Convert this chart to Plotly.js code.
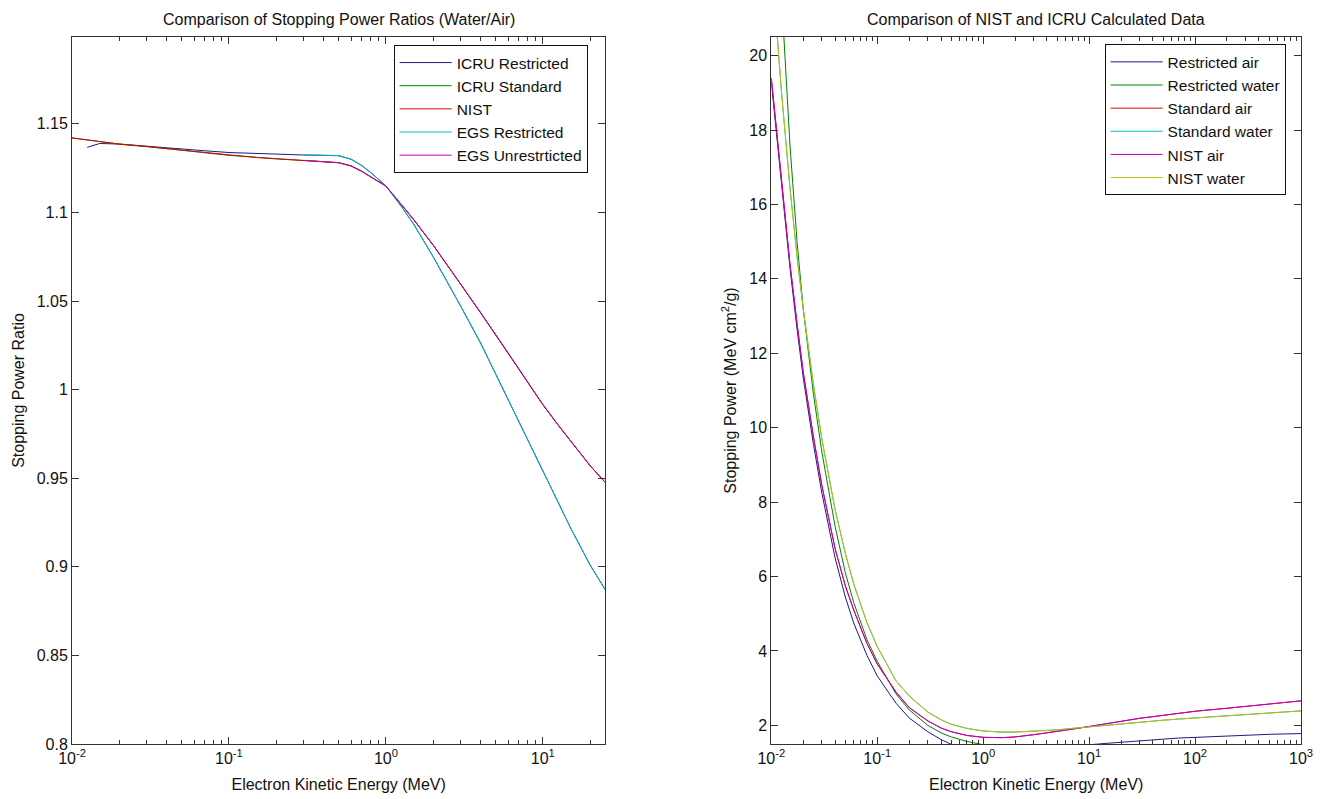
<!DOCTYPE html>
<html>
<head>
<meta charset="utf-8">
<script src="https://cdn.plot.ly/plotly-3.0.1.min.js"></script>
<style>html,body{margin:0;padding:0;background:#fff;}#chart{width:1322px;height:799px;}</style>
</head>
<body>
<div id="chart"></div>
<script>
// ---------- Left panel: stopping power ratios water/air ----------
const icruRestrictedE = [0.0125, 0.015, 0.02, 0.03, 0.04, 0.05, 0.07, 0.1, 0.15, 0.2, 0.3, 0.4, 0.5, 0.6, 0.7, 0.8, 1, 1.25, 1.5, 2, 2.5, 3, 4, 5, 6, 8, 10, 12.5, 15, 20, 25];
const icruRestrictedR = [1.1367, 1.1389, 1.1386, 1.1375, 1.1364, 1.1358, 1.1348, 1.1338, 1.1332, 1.1328, 1.1324, 1.1322, 1.1320, 1.1300, 1.1265, 1.1225, 1.1150, 1.1035, 1.0935, 1.0750, 1.0600, 1.0470, 1.0265, 1.0090, 0.9950, 0.9720, 0.9540, 0.9365, 0.9220, 0.9010, 0.8870];

const icruStandardE = [0.01, 0.0125, 0.015, 0.02, 0.03, 0.04, 0.05, 0.07, 0.1, 0.15, 0.2, 0.3, 0.4, 0.5, 0.6, 0.7, 0.8, 1, 1.25, 1.5, 2, 2.5, 3, 4, 5, 6, 8, 10, 12.5, 15, 20, 25];
const icruStandardR = [1.1420, 1.1408, 1.1398, 1.1386, 1.1372, 1.1360, 1.1352, 1.1337, 1.1322, 1.1311, 1.1303, 1.1293, 1.1286, 1.1280, 1.1262, 1.1232, 1.1200, 1.1148, 1.1045, 1.0960, 1.0815, 1.0695, 1.0595, 1.0435, 1.0310, 1.0205, 1.0040, 0.9915, 0.9800, 0.9710, 0.9570, 0.9475];

const nistE = [0.01, 0.0125, 0.015, 0.02, 0.03, 0.04, 0.05, 0.07, 0.1, 0.15, 0.2, 0.3, 0.4, 0.5, 0.6, 0.7, 0.8, 1, 1.25, 1.5, 2, 2.5, 3, 4, 5, 6, 8, 10, 12.5, 15, 20, 25];
const nistR = [1.1421, 1.1409, 1.1398, 1.1385, 1.1371, 1.1360, 1.1351, 1.1336, 1.1322, 1.1310, 1.1302, 1.1293, 1.1286, 1.1281, 1.1262, 1.1233, 1.1201, 1.1149, 1.1046, 1.0961, 1.0816, 1.0696, 1.0596, 1.0436, 1.0311, 1.0206, 1.0041, 0.9916, 0.9801, 0.9711, 0.9571, 0.9476];

const egsRestrictedE = [0.3, 0.4, 0.5, 0.6, 0.7, 0.8, 1, 1.25, 1.5, 2, 2.5, 3, 4, 5, 6, 8, 10, 12.5, 15, 20, 25];
const egsRestrictedR = [1.1325, 1.1323, 1.1321, 1.1301, 1.1266, 1.1226, 1.1151, 1.1036, 1.0936, 1.0751, 1.0601, 1.0471, 1.0266, 1.0091, 0.9951, 0.9721, 0.9541, 0.9366, 0.9221, 0.9011, 0.8871];

const egsUnrestrictedE = [0.3, 0.4, 0.5, 0.6, 0.7, 0.8, 1, 1.25, 1.5, 2, 2.5, 3, 4, 5, 6, 8, 10, 12.5, 15, 20, 25];
const egsUnrestrictedR = [1.1294, 1.1287, 1.1281, 1.1263, 1.1233, 1.1201, 1.1149, 1.1046, 1.0961, 1.0816, 1.0696, 1.0596, 1.0436, 1.0311, 1.0206, 1.0041, 0.9916, 0.9801, 0.9711, 0.9571, 0.9476];

// ---------- Right panel: stopping powers (MeV cm2/g) ----------
const spEnergy = [0.01, 0.0125, 0.015, 0.0175, 0.02, 0.025, 0.03, 0.04, 0.05, 0.06, 0.08, 0.1, 0.15, 0.2, 0.3, 0.4, 0.5, 0.7, 1, 1.5, 2, 3, 5, 7, 10, 15, 20, 30, 50, 70, 100, 200, 300, 500, 700, 1000];
const restrictedAir = [19.3, 16.5, 14.3, 12.65, 11.35, 9.55, 8.25, 6.5, 5.45, 4.75, 3.88, 3.33, 2.6, 2.2, 1.83, 1.62, 1.49, 1.39, 1.34, 1.33, 1.35, 1.38, 1.42, 1.45, 1.48, 1.52, 1.55, 1.59, 1.63, 1.66, 1.68, 1.72, 1.74, 1.76, 1.77, 1.78];
const restrictedWaterE = [0.0125, 0.015, 0.0175, 0.02, 0.025, 0.03, 0.04, 0.05, 0.06, 0.08, 0.1, 0.15, 0.2, 0.3, 0.4, 0.5, 0.7, 1];
const restrictedWater = [21.6, 17.6, 15.0, 13.2, 10.9, 9.35, 7.35, 6.1, 5.3, 4.3, 3.72, 2.85, 2.42, 2.0, 1.8, 1.69, 1.57, 1.48];
const standardAir = [19.4, 16.6, 14.4, 12.8, 11.5, 9.75, 8.45, 6.75, 5.75, 5.1, 4.2, 3.65, 2.9, 2.48, 2.12, 1.93, 1.83, 1.73, 1.68, 1.67, 1.69, 1.75, 1.83, 1.90, 1.97, 2.05, 2.11, 2.19, 2.27, 2.33, 2.38, 2.46, 2.51, 2.57, 2.62, 2.66];
const standardWater = [22.6, 19.0, 16.45, 14.6, 13.2, 11.15, 9.7, 7.8, 6.62, 5.8, 4.76, 4.12, 3.2, 2.79, 2.36, 2.15, 2.03, 1.92, 1.85, 1.82, 1.82, 1.84, 1.88, 1.92, 1.96, 2.01, 2.05, 2.09, 2.14, 2.17, 2.20, 2.26, 2.29, 2.33, 2.36, 2.39];
const nistAir = [19.4, 16.6, 14.4, 12.8, 11.5, 9.75, 8.45, 6.75, 5.75, 5.1, 4.2, 3.65, 2.9, 2.48, 2.12, 1.93, 1.83, 1.73, 1.68, 1.67, 1.69, 1.75, 1.83, 1.90, 1.97, 2.05, 2.11, 2.19, 2.27, 2.33, 2.38, 2.46, 2.51, 2.57, 2.62, 2.66];
const nistWater = [22.6, 19.0, 16.45, 14.6, 13.2, 11.15, 9.7, 7.8, 6.62, 5.8, 4.76, 4.12, 3.2, 2.79, 2.36, 2.15, 2.03, 1.92, 1.85, 1.82, 1.82, 1.84, 1.88, 1.92, 1.96, 2.01, 2.05, 2.09, 2.14, 2.17, 2.20, 2.26, 2.29, 2.33, 2.36, 2.39];

// ---------- Tick labels ----------
const leftXTickVals = [0.01, 0.1, 1, 10];
const leftXTickText = ['10<sup>-2</sup>', '10<sup>-1</sup>', '10<sup>0</sup>', '10<sup>1</sup>'];
const leftYTickVals = [0.8, 0.85, 0.9, 0.95, 1, 1.05, 1.1, 1.15];
const leftYTickText = ['0.8', '0.85', '0.9', '0.95', '1', '1.05', '1.1', '1.15'];
const rightXTickVals = [0.01, 0.1, 1, 10, 100, 1000];
const rightXTickText = ['10<sup>-2</sup>', '10<sup>-1</sup>', '10<sup>0</sup>', '10<sup>1</sup>', '10<sup>2</sup>', '10<sup>3</sup>'];
const rightYTickVals = [2, 4, 6, 8, 10, 12, 14, 16, 18, 20];

// colours (classic MATLAB colour order)
const cBlue = '#1a1a80', cGreen = '#008000', cRed = '#e00000', cCyan = '#00bfbf', cMag = '#bf00bf', cYel = '#bfbf00';

function minorLogTicks(lo, hi) {
  const out = [];
  for (let d = lo; d < hi; d++) {
    for (let k = 2; k <= 9; k++) out.push(k * Math.pow(10, d));
  }
  return out;
}

function ln(x, y, name, color, xa, ya, legend) {
  return {type: 'scatter', mode: 'lines', x: x, y: y, name: name,
    line: {color: color, width: 1}, xaxis: xa, yaxis: ya, legend: legend, hoverinfo: 'x+y+name'};
}

const data = [
  ln(icruRestrictedE, icruRestrictedR, 'ICRU Restricted', cBlue, 'x', 'y', 'legend'),
  ln(icruStandardE, icruStandardR, 'ICRU Standard', cGreen, 'x', 'y', 'legend'),
  ln(nistE, nistR, 'NIST', cRed, 'x', 'y', 'legend'),
  ln(egsRestrictedE, egsRestrictedR, 'EGS Restricted', cCyan, 'x', 'y', 'legend'),
  ln(egsUnrestrictedE, egsUnrestrictedR, 'EGS Unrestrticted', cMag, 'x', 'y', 'legend'),
  ln(spEnergy, restrictedAir, 'Restricted air', cBlue, 'x2', 'y2', 'legend2'),
  ln(restrictedWaterE, restrictedWater, 'Restricted water', cGreen, 'x2', 'y2', 'legend2'),
  ln(spEnergy, standardAir, 'Standard air', cRed, 'x2', 'y2', 'legend2'),
  ln(spEnergy, standardWater, 'Standard water', cCyan, 'x2', 'y2', 'legend2'),
  ln(spEnergy, nistAir, 'NIST air', cMag, 'x2', 'y2', 'legend2'),
  ln(spEnergy, nistWater, 'NIST water', cYel, 'x2', 'y2', 'legend2')
];

const FONT = 'Liberation Sans, Arial, Helvetica, sans-serif';
const axisBase = {
  showline: true, linecolor: '#333', linewidth: 1, mirror: 'ticks',
  ticks: 'inside', ticklen: 7, tickwidth: 1, tickcolor: '#333',
  showgrid: false, zeroline: false, automargin: false,
  tickfont: {family: FONT, size: 16, color: '#111'}
};

const legendBase = {
  xref: 'paper', yref: 'paper', xanchor: 'left', yanchor: 'top',
  bgcolor: '#fff', bordercolor: '#111', borderwidth: 1,
  font: {family: FONT, size: 15.5, color: '#111'}, tracegroupgap: 0, itemwidth: 52
};

const layout = {
  width: 1322, height: 799,
  margin: {l: 71.7, r: 21.3, t: 36.7, b: 54.7, pad: 0},
  paper_bgcolor: '#fff', plot_bgcolor: '#fff',
  font: {family: FONT, size: 16, color: '#111'},
  showlegend: true,
  xaxis: Object.assign({}, axisBase, {
    type: 'log', domain: [0, 0.43393], range: [-2, Math.log10(25)], anchor: 'y',
    tickmode: 'array', tickvals: leftXTickVals, ticktext: leftXTickText,
    minor: {tickmode: 'array', tickvals: minorLogTicks(-2, 2), ticks: 'inside', ticklen: 4, tickcolor: '#333', showgrid: false},
    title: {text: 'Electron Kinetic Energy (MeV)', font: {family: FONT, size: 16, color: '#111'}, standoff: 12}
  }),
  yaxis: Object.assign({}, axisBase, {
    domain: [0, 1], range: [0.8, 1.199], anchor: 'x',
    tickmode: 'array', tickvals: leftYTickVals, ticktext: leftYTickText,
    title: {text: 'Stopping Power Ratio', font: {family: FONT, size: 16, color: '#111'}, standoff: 8}
  }),
  xaxis2: Object.assign({}, axisBase, {
    type: 'log', domain: [0.5690, 1], range: [-2, 3], anchor: 'y2',
    tickmode: 'array', tickvals: rightXTickVals, ticktext: rightXTickText,
    minor: {tickmode: 'array', tickvals: minorLogTicks(-2, 3), ticks: 'inside', ticklen: 4, tickcolor: '#333', showgrid: false},
    title: {text: 'Electron Kinetic Energy (MeV)', font: {family: FONT, size: 16, color: '#111'}, standoff: 12}
  }),
  yaxis2: Object.assign({}, axisBase, {
    domain: [0, 1], range: [1.5, 20.5], anchor: 'x2',
    tickmode: 'array', tickvals: rightYTickVals,
    title: {text: 'Stopping Power (MeV cm<sup>2</sup>/g)', font: {family: FONT, size: 16, color: '#111'}, standoff: 8}
  }),
  legend: Object.assign({}, legendBase, {x: 0.2617, y: 0.9887}),
  legend2: Object.assign({}, legendBase, {x: 0.8402, y: 0.9897}),
  annotations: [
    {text: 'Comparison of Stopping Power Ratios (Water/Air)', xref: 'paper', yref: 'paper',
     x: 0.2170, y: 1.025, xanchor: 'center', yanchor: 'middle', showarrow: false,
     font: {family: FONT, size: 16, color: '#111'}},
    {text: 'Comparison of NIST and ICRU Calculated Data', xref: 'paper', yref: 'paper',
     x: 0.7845, y: 1.025, xanchor: 'center', yanchor: 'middle', showarrow: false,
     font: {family: FONT, size: 16, color: '#111'}}
  ]
};

Plotly.newPlot('chart', data, layout, {displayModeBar: false, responsive: false});
</script>
</body>
</html>
